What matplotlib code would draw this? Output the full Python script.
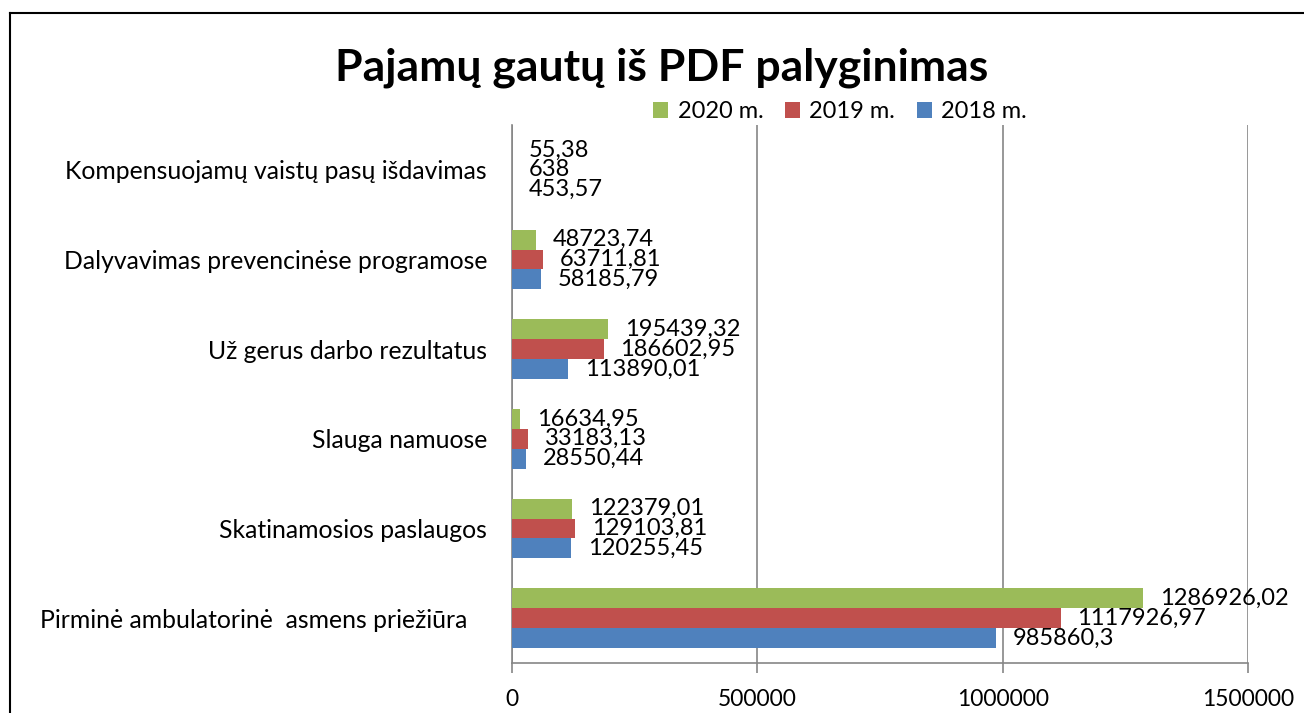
import matplotlib
matplotlib.use("Agg")
import matplotlib.pyplot as plt
from matplotlib.lines import Line2D
import numpy as np

plt.rcParams['font.family'] = ['Lato', 'DejaVu Sans']

categories = [
    "Pirminė ambulatorinė  asmens priežiūra   ",
    "Skatinamosios paslaugos",
    "Slauga namuose",
    "Už gerus darbo rezultatus",
    "Dalyvavimas prevencinėse programose",
    "Kompensuojamų vaistų pasų išdavimas",
]
series_names = ["2018 m.", "2019 m.", "2020 m."]
values_2018 = [985860.3, 120255.45, 28550.44, 113890.01, 58185.79, 453.57]
values_2019 = [1117926.97, 129103.81, 33183.13, 186602.95, 63711.81, 638]
values_2020 = [1286926.02, 122379.01, 16634.95, 195439.32, 48723.74, 55.38]
label_2018 = ["985860,3", "120255,45", "28550,44", "113890,01", "58185,79", "453,57"]
label_2019 = ["1117926,97", "129103,81", "33183,13", "186602,95", "63711,81", "638"]
label_2020 = ["1286926,02", "122379,01", "16634,95", "195439,32", "48723,74", "55,38"]
colors = ["#4F81BD", "#C0504D", "#9BBB59"]
xticks = [0, 500000, 1000000, 1500000]

W, H = 1304, 713
fig = plt.figure(figsize=(W / 100, H / 100), dpi=100)
ax = fig.add_axes([512 / W, 1 - 663 / H, (1248 - 512) / W, (663 - 125) / H])

y = np.arange(len(categories))
h = 0.222
all_vals = [values_2018, values_2019, values_2020]
all_labels = [label_2018, label_2019, label_2020]
handles = []
for i, (vals, labs, c, name) in enumerate(zip(all_vals, all_labels, colors, series_names)):
    pos = y + (i - 1) * h
    bars = ax.barh(pos, vals, height=h, color=c, label=name, zorder=3)
    handles.append(bars)
    for p, v, t in zip(pos, vals, labs):
        ax.annotate(t, xy=(v, p), xytext=(12, 0), textcoords="offset points",
                    ha="left", va="center", fontsize=17, color="black")

ax.set_xlim(0, 1500000)
ax.set_ylim(-0.5, len(categories) - 0.5)
ax.set_yticks(y)
ax.set_yticklabels(categories, fontsize=17.8)
ax.set_xticks(xticks)
ax.set_xticklabels([str(t) for t in xticks], fontsize=16.5)
ax.tick_params(axis="y", length=0, pad=18)
ax.tick_params(axis="x", length=7, width=1.2, color="#868686", pad=12, direction="out")
ax.xaxis.grid(True, color="#868686", linewidth=1.2, zorder=0)
for s in ["top", "right"]:
    ax.spines[s].set_visible(False)
for s in ["left", "bottom"]:
    ax.spines[s].set_color("#868686")
    ax.spines[s].set_linewidth(1.2)

fig.text(662 / W, 1 - 68 / H, "Pajamų gautų iš PDF palyginimas", ha="center", va="center",
         fontsize=32, fontweight="bold")

leg = fig.legend(handles=handles[::-1], labels=series_names[::-1], loc="center",
                 bbox_to_anchor=(840 / W, 1 - 112 / H), ncol=3, frameon=False,
                 fontsize=17, handlelength=0.65, handleheight=0.65, handletextpad=0.4,
                 columnspacing=0.9, borderaxespad=0)

# figure border (left and top visible)
fig.add_artist(Line2D([10 / W, 10 / W], [0, 1 - 13 / H], transform=fig.transFigure,
                      color="black", linewidth=1.5))
fig.add_artist(Line2D([10 / W, 1], [1 - 13 / H, 1 - 13 / H], transform=fig.transFigure,
                      color="black", linewidth=1.5))

fig.savefig("out.png", dpi=100)
